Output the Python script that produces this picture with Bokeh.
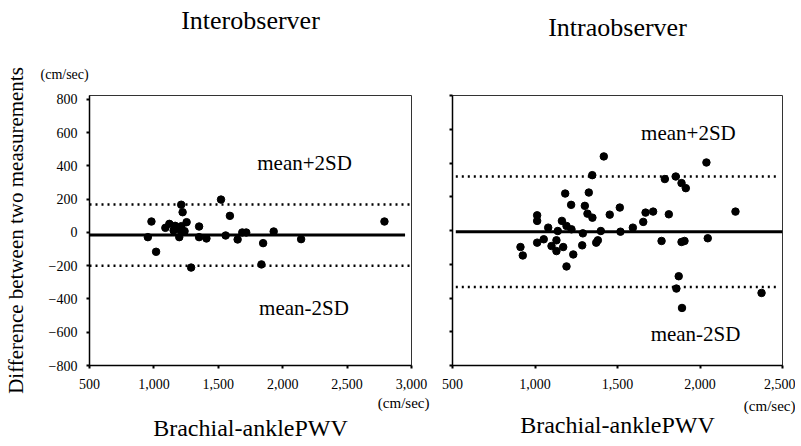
from bokeh.plotting import figure
from bokeh.models import Label, NumeralTickFormatter, FixedTicker, Title
from bokeh.layouts import row
from bokeh.embed import file_html
from bokeh.resources import INLINE

# ---------------- data ----------------
inter_x = [953, 981, 1017, 1089, 1120, 1153, 1165, 1179, 1197, 1205, 1212, 1223, 1213, 1238, 1254,
           1289, 1351, 1351, 1408, 1521, 1557, 1590, 1650, 1686, 1717, 1835, 1848, 1930, 2143, 2790]
inter_y = [-28, 66, -116, 28, 52, 12, 40, 28, -28, 15, 167, 122, 38, 8, 62,
           -211, 36, -28, -36, 198, -18, 100, -42, 0, 0, -192, -64, 6, -40, 66]

intra_x = [1417, 1347, 1183, 1326, 1219, 1302, 1318, 1348, 1453, 1514, 1013, 1013, 1080, 1163, 1191,
           1221, 1138, 1290, 1399, 1518, 912, 926, 1013, 1053, 1130, 1100, 1130, 1171, 1232, 1191,
           1286, 1371, 1381, 2039, 1787, 1853, 1888, 1914, 1670, 1716, 1811, 2215, 1656, 1593, 1767,
           1888, 1906, 2047, 1871, 1857, 1891, 2373]
intra_y = [439, 328, 219, 225, 152, 146, 100, 76, 94, 136, 90, 57, 17, 57, 27,
           7, -3, -17, -3, -7, -98, -148, -72, -52, -58, -92, -122, -98, -142, -213,
           -88, -72, -58, 403, 305, 320, 281, 251, 106, 112, 96, 112, 51, 17, -62,
           -68, -62, -46, -271, -344, -459, -370]

inter_mean, inter_upper, inter_lower = -15, 168, -200
intra_mean, intra_upper, intra_lower = -8, 320, -335
inter_mean_x = [500, 2950]
inter_sd_x = [500, 3000]
intra_mean_x = [520, 2500]
intra_sd_x = [520, 2470]

y_ticks = [-800, -600, -400, -200, 0, 200, 400, 600, 800]
inter_x_ticks = [500, 1000, 1500, 2000, 2500, 3000]
intra_x_ticks = [500, 1000, 1500, 2000, 2500]

FONT = "Liberation Serif"


def style(p, xticks):
    p.grid.visible = False
    p.outline_line_color = "#333333"
    p.outline_line_width = 1
    p.background_fill_color = "white"
    p.border_fill_color = "white"
    p.xaxis.ticker = FixedTicker(ticks=xticks)
    p.yaxis.ticker = FixedTicker(ticks=y_ticks)
    p.xaxis.formatter = NumeralTickFormatter(format="0,0")
    for ax in (p.xaxis, p.yaxis):
        ax.axis_line_color = "black"
        ax.axis_line_width = 1.5
        ax.major_tick_line_color = "black"
        ax.major_tick_line_width = 2
        ax.major_tick_out = 3
        ax.major_tick_in = 0
        ax.minor_tick_line_color = None
        ax.major_label_text_font = FONT
        ax.major_label_text_font_size = "14px"
        ax.major_label_text_color = "black"
    p.xaxis.major_label_standoff = 10
    p.yaxis.major_label_standoff = 9


def inner(p, text, x, y, size="21px"):
    p.add_layout(Label(x=x, y=y, text=text, text_font=FONT, text_font_size=size,
                       text_color="black", text_align="center", text_baseline="middle"))


def title(p, text, side, size, align="center", offset=0, standoff=4):
    p.add_layout(Title(text=text, align=align, offset=offset, standoff=standoff,
                       text_font=FONT, text_font_size=size, text_font_style="normal",
                       text_color="black"), side)


# ---------------- left: Interobserver ----------------
p1 = figure(width=432, height=446, x_range=(500, 3000), y_range=(-800, 824),
            output_backend="svg", toolbar_location=None,
            min_border_left=87, min_border_right=21, min_border_top=95, min_border_bottom=81)
style(p1, inter_x_ticks)
p1.yaxis.axis_label = "Difference between two measurements"
p1.yaxis.axis_label_text_font = FONT
p1.yaxis.axis_label_text_font_size = "21px"
p1.yaxis.axis_label_text_font_style = "normal"
p1.yaxis.axis_label_text_color = "black"
p1.yaxis.axis_label_standoff = 18

p1.line(inter_sd_x, [inter_upper, inter_upper], line_color="black", line_width=2.5, line_dash="2 4")
p1.line(inter_sd_x, [inter_lower, inter_lower], line_color="black", line_width=2.5, line_dash="2 4")
p1.line(inter_mean_x, [inter_mean, inter_mean], line_color="black", line_width=3)
p1.scatter(inter_x, inter_y, size=7.5, color="black")

inner(p1, "mean+2SD", 2170, 421)
inner(p1, "mean-2SD", 2165, -457)
title(p1, "(cm/sec)", "above", "14px", align="left", offset=-49, standoff=27)
title(p1, " ", "above", "2px", standoff=13)
title(p1, "Interobserver", "above", "26px", standoff=0)
title(p1, "(cm/sec)", "below", "15px", align="right", offset=-18, standoff=3)
title(p1, "Brachial-anklePWV", "below", "24px", offset=-10, standoff=0)

# ---------------- right: Intraobserver ----------------
p2 = figure(width=363, height=446, x_range=(500, 2500), y_range=(-800, 800),
            output_backend="svg", toolbar_location=None,
            min_border_left=20, min_border_right=13, min_border_top=95, min_border_bottom=81)
style(p2, intra_x_ticks)
p2.yaxis.major_label_overrides = {t: "" for t in y_ticks}

p2.line(intra_sd_x, [intra_upper, intra_upper], line_color="black", line_width=2.5, line_dash="2 4")
p2.line(intra_sd_x, [intra_lower, intra_lower], line_color="black", line_width=2.5, line_dash="2 4")
p2.line(intra_mean_x, [intra_mean, intra_mean], line_color="black", line_width=3)
p2.scatter(intra_x, intra_y, size=7.5, color="black")

inner(p2, "mean+2SD", 1930, 580)
inner(p2, "mean-2SD", 1973, -616)
title(p2, " ", "above", "14px", standoff=37)
title(p2, "Intraobserver", "above", "26px", offset=-25, standoff=0)
title(p2, "(cm/sec)", "below", "15px", align="right", offset=-13, standoff=8)
title(p2, "Brachial-anklePWV", "below", "24px", offset=-10, standoff=-16)

layout = row(p1, p2)
open("out.html", "w").write(file_html(layout, INLINE))
